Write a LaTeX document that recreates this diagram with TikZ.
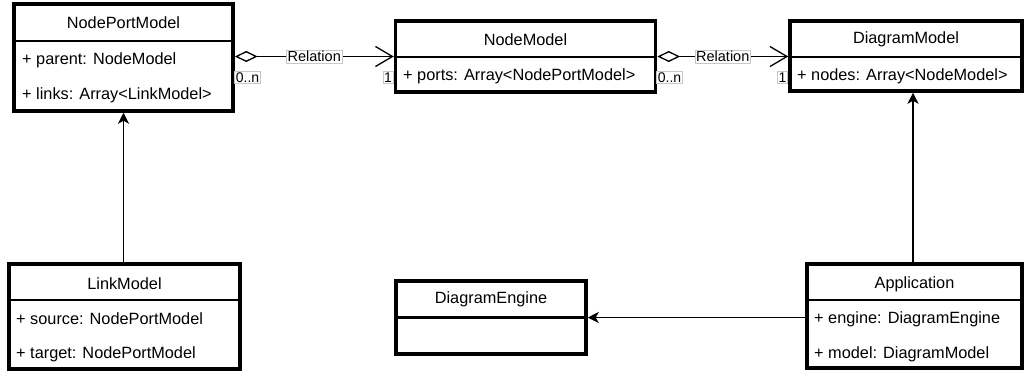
\documentclass[tikz,border=0pt]{standalone}
\usepackage{fontspec}
\setmainfont{Liberation Sans}
\usetikzlibrary{arrows.meta}
\begin{document}
\begin{tikzpicture}[x=1pt,y=-1pt,
  classbox/.style={draw, line width=3.5pt, inner sep=0pt, fill=white},
  divider/.style={line width=2.5pt},
  title/.style={font=\fontsize{16.3}{19}\selectfont, inner sep=0pt},
  attr/.style={font=\fontsize{16.3}{19}\selectfont, inner sep=0pt, anchor=west},
  lbl/.style={draw=black!22, line width=0.6pt, fill=white, inner sep=1.2pt, font=\fontsize{14.5}{16}\selectfont},
  mult/.style={draw=black!22, line width=0.6pt, fill=white, inner sep=1.2pt, font=\fontsize{14}{16}\selectfont},
  conn/.style={line width=1.3pt},
  assoc/.style={conn, -{Stealth[length=11pt, width=11pt, inset=3pt]}},
  aggr/.style={conn, {Diamond[open, length=23pt, width=11pt]}-{Straight Barb[length=17pt, width=20pt]}}
]
\useasboundingbox (0,0) rectangle (1027,372);

% NodePortModel
\node[classbox, minimum width=219pt, minimum height=107pt] (npm) at (123.5,57.5) {};
\draw[divider] (npm.west |- 0,41) -- (npm.east |- 0,41);
\node[title] (npmT) at (123.5,22.5) {NodePortModel};
\node[attr] (npmA1) at (22,60) {+ parent: NodeModel};
\node[attr] (npmA2) at (22,95) {+ links: Array<LinkModel>};

% NodeModel
\node[classbox, minimum width=260pt, minimum height=71pt] (nm) at (525.5,56.5) {};
\draw[divider] (nm.west |- 0,57) -- (nm.east |- 0,57);
\node[title] (nmT) at (525.5,39.5) {NodeModel};
\node[attr] (nmA1) at (403,76) {+ ports: Array<NodePortModel>};

% DiagramModel
\node[classbox, minimum width=232pt, minimum height=70pt] (dm) at (906,56) {};
\draw[divider] (dm.west |- 0,57) -- (dm.east |- 0,57);
\node[title] (dmT) at (906,39.5) {DiagramModel};
\node[attr] (dmA1) at (797,76) {+ nodes: Array<NodeModel>};

% LinkModel
\node[classbox, minimum width=231pt, minimum height=105pt] (lm) at (124.5,316.5) {};
\draw[divider] (lm.west |- 0,300) -- (lm.east |- 0,300);
\node[title] (lmT) at (124.5,283.5) {LinkModel};
\node[attr] (lmA1) at (16,319) {+ source: NodePortModel};
\node[attr] (lmA2) at (16,354) {+ target: NodePortModel};

% DiagramEngine
\node[classbox, minimum width=190pt, minimum height=73pt] (de) at (491,317.5) {};
\draw[divider] (de.west |- 0,317.5) -- (de.east |- 0,317.5);
\node[title] (deT) at (491,299.5) {DiagramEngine};

% Application
\node[classbox, minimum width=215pt, minimum height=104pt] (ap) at (914.5,316) {};
\draw[divider] (ap.west |- 0,300) -- (ap.east |- 0,300);
\node[title] (apT) at (914.5,284) {Application};
\node[attr] (apA1) at (814,319) {+ engine: DiagramEngine};
\node[attr] (apA2) at (814,354) {+ model: DiagramModel};

% connectors
\draw[assoc] ([xshift=-1pt]lm.north) -- ([xshift=-1pt]lm.north |- npm.south);
\draw[assoc] ([xshift=-1.5pt]ap.north) -- ([xshift=-1.5pt]ap.north |- dm.south);
\draw[assoc] (ap.west |- de.east) -- (de.east);

\draw[aggr] (npm.east |- nm.west) -- node[lbl] (r1) {Relation} (nm.west);
\draw[aggr] (nm.east) -- node[lbl] (r2) {Relation} (nm.east -| dm.west);

\node[mult] (m1) at (247.5,77.5) {0..n};
\node[mult] (o1) at (388,77.5) {1};
\node[mult] (m2) at (669.5,77.5) {0..n};
\node[mult] (o2) at (782.5,77.5) {1};
\end{tikzpicture}
\end{document}
